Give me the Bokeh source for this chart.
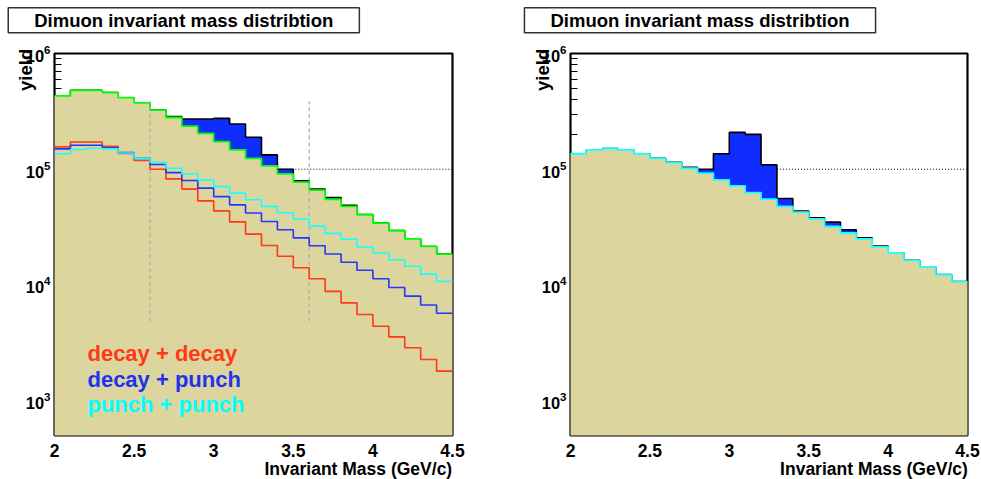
import numpy as np
from bokeh.plotting import figure
from bokeh.models import Range1d, Label, FixedTicker, LogTicker
from bokeh.layouts import row
from bokeh.embed import file_html
from bokeh.resources import INLINE

# ---------------- data ----------------
bin_low = [2.0, 2.1, 2.2, 2.3, 2.4, 2.5, 2.6, 2.7, 2.8, 2.9,
           3.0, 3.1, 3.2, 3.3, 3.4, 3.5, 3.6, 3.7, 3.8, 3.9,
           4.0, 4.1, 4.2, 4.3, 4.4]
bin_width = 0.1

# left panel
left_total = [4.3e5, 4.8e5, 4.8e5, 4.6e5, 4.15e5, 3.75e5, 3.24e5, 2.85e5, 2.72e5, 2.72e5,
              2.75e5, 2.46e5, 1.89e5, 1.33e5, 1.0e5, 7.95e4, 6.75e4, 5.7e4, 4.87e4, 4.06e4,
              3.43e4, 2.95e4, 2.5e4, 2.15e4, 1.85e4]
left_background = [4.3e5, 4.8e5, 4.8e5, 4.6e5, 4.15e5, 3.75e5, 3.24e5, 2.8e5, 2.36e5, 2.04e5,
                   1.73e5, 1.47e5, 1.24e5, 1.07e5, 9.1e4, 7.75e4, 6.6e4, 5.5e4, 4.77e4, 4.04e4,
                   3.42e4, 2.94e4, 2.5e4, 2.15e4, 1.85e4]
decay_decay = [1.56e5, 1.72e5, 1.72e5, 1.58e5, 1.37e5, 1.19e5, 1.0e5, 8.25e4, 6.73e4, 5.33e4,
               4.37e4, 3.51e4, 2.75e4, 2.19e4, 1.77e4, 1.41e4, 1.13e4, 8.8e3, 7.0e3, 5.55e3,
               4.4e3, 3.56e3, 2.87e3, 2.27e3, 1.8e3]
decay_punch = [1.5e5, 1.61e5, 1.61e5, 1.53e5, 1.39e5, 1.24e5, 1.1e5, 9.35e4, 7.98e4, 6.86e4,
               5.8e4, 4.92e4, 4.18e4, 3.53e4, 3.0e4, 2.55e4, 2.18e4, 1.85e4, 1.57e4, 1.34e4,
               1.13e4, 9.5e3, 8.0e3, 6.7e3, 5.7e3]
punch_punch = [1.36e5, 1.48e5, 1.52e5, 1.5e5, 1.38e5, 1.24e5, 1.15e5, 1.02e5, 9.1e4, 8.09e4,
               7.08e4, 6.21e4, 5.44e4, 4.77e4, 4.2e4, 3.71e4, 3.22e4, 2.79e4, 2.48e4, 2.13e4,
               1.89e4, 1.65e4, 1.45e4, 1.24e4, 1.07e4]

# right panel
right_total = [1.36e5, 1.47e5, 1.51e5, 1.47e5, 1.36e5, 1.24e5, 1.15e5, 1.04e5, 1.0e5, 1.36e5,
               2.08e5, 2.0e5, 1.09e5, 5.58e4, 4.35e4, 3.8e4, 3.49e4, 3.0e4, 2.55e4, 2.17e4,
               1.89e4, 1.63e4, 1.43e4, 1.23e4, 1.07e4]
right_background = [1.36e5, 1.47e5, 1.51e5, 1.47e5, 1.36e5, 1.24e5, 1.14e5, 1.02e5, 9.25e4, 8.09e4,
                    7.18e4, 6.28e4, 5.51e4, 4.77e4, 4.26e4, 3.73e4, 3.2e4, 2.81e4, 2.5e4, 2.13e4,
                    1.89e4, 1.63e4, 1.43e4, 1.23e4, 1.07e4]

x_ticks = [2, 2.5, 3, 3.5, 4, 4.5]
x_tick_labels = ["2", "2.5", "3", "3.5", "4", "4.5"]
legend_labels = ["decay + decay", "decay + punch", "punch + punch"]
title_text = "Dimuon invariant mass distribtion"
x_title = "Invariant Mass (GeV/c)"
y_title = "yield"

window_lines_x = [2.6, 3.6]
window_lines_y = [4.85e3, 3.88e5]
ref_level = 1e5

YMIN, YMAX = 500.0, 1e6
XMIN, XMAX = 2.0, 4.5

# ---------------- style ----------------
FONT = "Liberation Sans"
KHAKI = "#ddd59e"
SIGBLUE = "#0f2dff"
GREEN = "#00ff00"
RED = "#ff3a14"
BLUE = "#2138ff"
CYAN = "#19ffff"


def steps(vals):
    xs, ys = [], []
    for lo, v in zip(bin_low, vals):
        xs += [lo, round(lo + bin_width, 2)]
        ys += [v, v]
    return xs, ys


def ypix(dy):
    per_dec = 384.0 / (np.log10(YMAX) - np.log10(YMIN))
    return 10 ** (np.log10(YMAX) + dy / per_dec)


def make_fig(width, left_border, right_border, title_cx, ytitle_cx, xtitle_rx):
    p = figure(width=width, height=479, x_range=Range1d(XMIN, XMAX),
               y_range=Range1d(YMIN, YMAX), y_axis_type="log",
               output_backend="svg", toolbar_location=None,
               min_border_left=left_border, min_border_right=right_border,
               min_border_top=53, min_border_bottom=42)
    p.xgrid.visible = False
    p.ygrid.visible = False
    p.outline_line_color = "black"
    p.outline_line_width = 2.2
    p.background_fill_color = "white"
    p.border_fill_color = "white"

    xa = p.xaxis[0]
    xa.ticker = FixedTicker(ticks=x_ticks, minor_ticks=[])
    xa.major_label_overrides = {t: l for t, l in zip(x_ticks, x_tick_labels)}
    xa.major_tick_line_color = None
    xa.minor_tick_line_color = None
    xa.axis_line_color = None
    xa.major_label_text_font = FONT
    xa.major_label_text_font_style = "bold"
    xa.major_label_text_font_size = "17.5px"
    xa.major_label_text_color = "black"
    xa.major_label_standoff = 2

    ya = p.yaxis[0]
    ya.ticker = LogTicker(desired_num_ticks=4, num_minor_ticks=10)
    ya.axis_line_color = None
    ya.major_tick_in = 14
    ya.major_tick_out = 0
    ya.minor_tick_in = 7
    ya.minor_tick_out = 0
    ya.major_tick_line_color = "black"
    ya.minor_tick_line_color = "black"
    ya.major_label_text_font = FONT
    ya.major_label_text_font_style = "bold"
    ya.major_label_text_font_size = "16.5px"
    ya.major_label_text_color = "black"
    ya.major_label_standoff = 4

    # boxed title above the frame
    p.add_layout(Label(x=title_cx, y=19.7, x_units="canvas", y_units="canvas",
                       text=title_text, text_align="center", text_baseline="middle",
                       text_font=FONT, text_font_style="bold",
                       text_font_size="18.5px", text_color="black",
                       border_line_color="#333333", border_line_width=1.5,
                       background_fill_color="white", padding=(26, 2)), "above")
    # x-axis title, right aligned with the frame
    p.add_layout(Label(x=xtitle_rx, y=468, x_units="canvas", y_units="canvas",
                       text=x_title, text_align="right", text_baseline="middle",
                       text_font=FONT, text_font_style="bold",
                       text_font_size="17.5px", text_color="black"), "below")
    # y-axis title near the top
    p.add_layout(Label(x=ytitle_cx, y=48.3, x_units="canvas", y_units="canvas",
                       text=y_title, angle=np.pi / 2,
                       text_align="right", text_baseline="middle", text_font=FONT,
                       text_font_style="bold", text_font_size="18.5px",
                       text_color="black"), "left")
    return p


def hist_block(p, total, background, line):
    xt, yt = steps(total)
    xb, yb = steps(background)
    # signal on top of the background (blue), then the background (khaki)
    p.varea(x=xt, y1=yb, y2=yt, fill_color=SIGBLUE, level="overlay")
    p.line(xt, yt, line_color="black", line_width=1.6, level="overlay")
    p.varea(x=xb, y1=[YMIN] * len(xb), y2=yb, fill_color=KHAKI, level="overlay")
    p.line(xb, yb, line_color=line, line_width=1.8, level="overlay")


def hist_line(p, vals, color, lw=1.6):
    xs, ys = steps(vals)
    p.line(xs, ys, line_color=color, line_width=lw, level="overlay")


# ---------------- left panel ----------------
p1 = make_fig(490, 54, 38, 183.3, 25, 451.7)
hist_block(p1, left_total, left_background, GREEN)
p1.segment(x0=window_lines_x, y0=[window_lines_y[0]] * 2, x1=window_lines_x,
           y1=[window_lines_y[1]] * 2, line_color="#9db0b6", line_width=1.2,
           line_dash="4 3", level="overlay")
hist_line(p1, decay_decay, RED)
hist_line(p1, decay_punch, BLUE)
hist_line(p1, punch_punch, CYAN)
p1.segment(x0=[3.4], y0=[ref_level], x1=[XMAX], y1=[ref_level], line_color="black",
           line_width=1, line_dash="1 2", level="overlay")

legend_colors = ["#ff3a14", "#1f33ee", "#00ffff"]
legend_y = [354.8, 381.5, 405.8]
for lab, col, py in zip(legend_labels, legend_colors, legend_y):
    p1.add_layout(Label(x=2.207, y=ypix(-(py - 53.3)), text=lab, text_align="left",
                        text_baseline="middle", text_font=FONT, text_font_style="bold",
                        text_font_size="22px", text_color=col, level="overlay"))

# ---------------- right panel ----------------
p2 = make_fig(491, 80, 14, 209.5, 51.7, 477.3)
hist_block(p2, right_total, right_background, CYAN)
p2.segment(x0=[3.3], y0=[ref_level], x1=[XMAX], y1=[ref_level], line_color="black",
           line_width=1, line_dash="1 2", level="overlay")

layout = row(p1, p2)
open("out.html", "w").write(file_html(layout, INLINE))
